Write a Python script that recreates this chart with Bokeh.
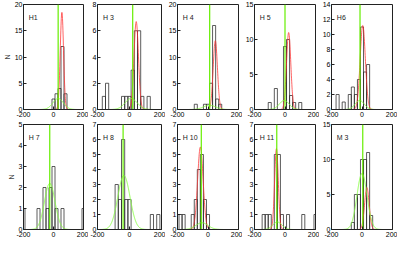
import numpy as np
from bokeh.plotting import figure
from bokeh.layouts import gridplot
from bokeh.models import Range1d, FixedTicker, Label
from bokeh.embed import file_html
from bokeh.resources import INLINE

# ---------------- data ----------------
panel_names = ["H1", "H 3", "H 4", "H 5", "H6", "H 7", "H 8", "H 10", "H 11", "M 3"]
y_max = [20, 8, 20, 15, 14, 5, 7, 7, 7, 15]
y_step = [5, 2, 5, 5, 2, 1, 1, 1, 1, 5]
x_ticks = [-200, 0, 200]

h1_centers = [0, 20, 40, 60, 80]
h1_counts = [2, 3, 4, 12, 3]
h3_centers = [-160, -140, -40, -20, 0, 20, 40, 60, 80, 120]
h3_counts = [1, 2, 1, 1, 1, 3, 6, 6, 1, 1]
h4_centers = [-80, -20, 0, 20, 40, 60, 80]
h4_counts = [1, 1, 1, 5, 16, 2, 1]
h5_centers = [-100, -60, 0, 20, 40, 60, 100]
h5_counts = [1, 3, 9, 10, 2, 1, 1]
h6_centers = [-160, -120, -80, -60, -40, -20, 0, 20, 40]
h6_counts = [2, 1, 2, 3, 2, 4, 11, 5, 6]
h7_centers = [-200, -100, -60, -40, -20, 0, 20, 60, 200]
h7_counts = [1, 1, 2, 1, 2, 3, 1, 1, 1]
h8_centers = [-80, -60, -40, -20, 0, 140, 180]
h8_counts = [3, 2, 6, 2, 2, 1, 1]
h10_centers = [-180, -160, -100, -80, -60, -40, -20, 0]
h10_counts = [1, 1, 1, 2, 4, 5, 2, 1]
h11_centers = [-140, -120, -100, -60, -40, -20, 20, 120, 200]
h11_counts = [1, 1, 1, 5, 5, 1, 1, 1, 1]
m3_centers = [-60, -40, -20, 0, 20, 40, 60]
m3_counts = [1, 5, 5, 10, 10, 11, 2]

hist_centers = [h1_centers, h3_centers, h4_centers, h5_centers, h6_centers,
                h7_centers, h8_centers, h10_centers, h11_centers, m3_centers]
hist_counts = [h1_counts, h3_counts, h4_counts, h5_counts, h6_counts,
               h7_counts, h8_counts, h10_counts, h11_counts, m3_counts]
bin_width = 20

vline_x = [31, 20, 11, 0, -13, -25, -40, -44, -54, 5]

# Gaussian fit parameters (amplitude, centre, width)
red_amp = [18.5, 6.7, 13.1, 11.0, 11.2, 0.0, 0.0, 5.5, 5.4, 6.0]
red_mu = [56, 42, 48, 24, 5, 0, 0, -50, -56, 32]
red_sigma = [11, 14, 14, 14, 17, 30, 30, 18, 12, 15]
green_amp = [2.1, 0.84, 0.8, 1.3, 1.2, 2.2, 3.6, 0.45, 0.5, 8.0]
green_mu = [31, 10, 10, -5, -15, -25, -35, -40, -50, 0]
green_sigma = [35, 38, 40, 32, 30, 35, 38, 40, 30, 33]

# ---------------- layout ----------------
FONT = "Liberation Sans"
FS = "7px"
FRAME_W = 64
FRAME_H = 105
col_left = [19, 9, 9, 9, 9]
col_right = [5, 4, 4, 4, 5]
row_top = [4, 4]
row_bottom = [11, 12]

xs = np.linspace(-200, 200, 401)


def make_panel(i):
    r, c = divmod(i, 5)
    p = figure(
        width=col_left[c] + FRAME_W + col_right[c],
        height=row_top[r] + FRAME_H + row_bottom[r],
        x_range=Range1d(-200, 200), y_range=Range1d(0, y_max[i]),
        output_backend="svg", toolbar_location=None,
        min_border_left=col_left[c], min_border_right=col_right[c],
        min_border_top=row_top[r], min_border_bottom=row_bottom[r],
    )
    p.xgrid.visible = False
    p.ygrid.visible = False
    p.outline_line_color = "#222222"
    p.outline_line_width = 1
    p.background_fill_color = "white"
    p.border_fill_color = "white"

    for ax in (p.xaxis, p.yaxis):
        ax.major_label_text_font = FONT
        ax.major_label_text_font_size = FS
        ax.major_label_text_color = "black"
        ax.major_tick_in = 3
        ax.major_tick_out = 0
        ax.minor_tick_in = 0
        ax.minor_tick_out = 0
        ax.axis_line_color = "#222222"
        ax.major_tick_line_color = "#222222"
        ax.major_label_standoff = 2
    p.xaxis.ticker = FixedTicker(ticks=x_ticks)
    p.xaxis.major_label_overrides = {t: str(t) for t in x_ticks}
    p.yaxis.ticker = FixedTicker(ticks=list(range(0, y_max[i] + 1, y_step[i])))
    p.yaxis.major_label_standoff = 1
    if c == 0:
        p.yaxis.axis_label = "N"
        p.yaxis.axis_label_text_font = FONT
        p.yaxis.axis_label_text_font_size = FS
        p.yaxis.axis_label_text_font_style = "normal"
        p.yaxis.axis_label_standoff = 1

    cen = np.array(hist_centers[i], dtype=float)
    cnt = np.array(hist_counts[i], dtype=float)
    p.quad(left=cen - bin_width / 2, right=cen + bin_width / 2, bottom=0, top=cnt,
           fill_color=None, line_color="#2a2a2a", line_width=0.9, line_alpha=0.85)

    red = red_amp[i] * np.exp(-(xs - red_mu[i]) ** 2 / (2 * red_sigma[i] ** 2))
    green = green_amp[i] * np.exp(-(xs - green_mu[i]) ** 2 / (2 * green_sigma[i] ** 2))
    p.line(xs, red, line_color="#ff3030", line_width=1, line_alpha=0.75)
    p.line(xs, green, line_color="#88ff44", line_width=1, line_alpha=0.9)
    p.line([vline_x[i], vline_x[i]], [0, y_max[i]], line_color="#66ee00", line_width=1.2)

    p.add_layout(Label(x=-165, y=y_max[i] * 0.875, text=panel_names[i],
                       text_font=FONT, text_font_size=FS, text_baseline="middle",
                       text_color="#222222"))
    return p


panels = [make_panel(i) for i in range(10)]
grid = gridplot([panels[:5], panels[5:]], toolbar_location=None)

open("out.html", "w").write(file_html(grid, INLINE))
